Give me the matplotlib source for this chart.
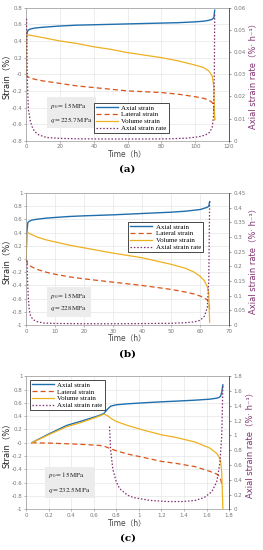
import numpy as np
import matplotlib
matplotlib.use("Agg")
import matplotlib.pyplot as plt

plt.rcParams['font.family'] = ['DejaVu Sans', 'Noto Sans CJK SC']
plt.rcParams['mathtext.fontset'] = 'stix'

# ---- panel (a) ----
t_a = [0, 0.3, 0.6, 1, 2, 5, 10, 20, 30, 40, 50, 60, 70, 80, 90, 100, 105, 108, 110, 111, 111.5]
axial_a = [0, 0.47, 0.50, 0.52, 0.54, 0.555, 0.565, 0.58, 0.59, 0.595, 0.60, 0.605, 0.61, 0.615, 0.62, 0.63, 0.638, 0.648, 0.66, 0.68, 0.77]
lat_a = [0, -0.01, -0.02, -0.03, -0.04, -0.06, -0.08, -0.11, -0.14, -0.16, -0.18, -0.20, -0.21, -0.22, -0.24, -0.27, -0.29, -0.31, -0.34, -0.38, -0.55]
vol_a = [0, 0.47, 0.48, 0.475, 0.47, 0.46, 0.44, 0.40, 0.37, 0.33, 0.30, 0.26, 0.23, 0.20, 0.16, 0.11, 0.08, 0.04, -0.02, -0.15, -0.55]
tr_a = [0.3, 0.5, 0.8, 1.4, 2.5, 3.5, 5, 7.5, 12, 20, 30, 50, 70, 85, 95, 102, 106, 108.5, 110, 110.8, 111.3, 111.5]
rate_a = [0.055, 0.044, 0.026, 0.014, 0.009, 0.0065, 0.0042, 0.0027, 0.0015, 0.0011, 0.0009, 0.0008, 0.0008, 0.0009, 0.0012, 0.0018, 0.0026, 0.0038, 0.0060, 0.011, 0.03, 0.057]

# ---- panel (b) ----
t_b = [0, 0.3, 0.6, 1, 2, 4, 7, 10, 15, 20, 30, 40, 50, 55, 58, 60, 61.5, 62.5, 63, 63.3]
axial_b = [0, 0.42, 0.55, 0.57, 0.59, 0.605, 0.62, 0.63, 0.645, 0.655, 0.67, 0.69, 0.71, 0.725, 0.74, 0.75, 0.77, 0.785, 0.80, 0.87]
lat_b = [0, -0.05, -0.07, -0.09, -0.12, -0.16, -0.20, -0.23, -0.27, -0.30, -0.35, -0.40, -0.46, -0.50, -0.53, -0.56, -0.59, -0.62, -0.66, -0.76]
vol_b = [0, 0.38, 0.40, 0.39, 0.37, 0.33, 0.29, 0.26, 0.21, 0.17, 0.09, 0.02, -0.08, -0.14, -0.20, -0.26, -0.33, -0.42, -0.52, -0.96]
tr_b = [0.35, 0.5, 0.8, 1.1, 1.6, 2.5, 4, 6, 10, 20, 30, 40, 50, 55, 58, 60, 61.5, 62.5, 63, 63.3]
rate_b = [0.22, 0.155, 0.09, 0.052, 0.03, 0.018, 0.011, 0.007, 0.0055, 0.0045, 0.0045, 0.005, 0.006, 0.008, 0.011, 0.016, 0.03, 0.06, 0.15, 0.42]

# ---- panel (c) ----
t_c = [0.05, 0.2, 0.36, 0.5, 0.65, 0.69, 0.72, 0.75, 0.80, 0.9, 1.04, 1.2, 1.33, 1.5, 1.63, 1.69, 1.71, 1.725, 1.735, 1.745]
axial_c = [0, 0.13, 0.26, 0.33, 0.41, 0.44, 0.50, 0.55, 0.57, 0.585, 0.60, 0.615, 0.625, 0.64, 0.655, 0.67, 0.68, 0.70, 0.76, 0.87]
lat_c = [0, -0.005, -0.015, -0.025, -0.04, -0.05, -0.07, -0.09, -0.12, -0.17, -0.22, -0.28, -0.31, -0.36, -0.43, -0.47, -0.50, -0.55, -0.62, -0.66]
vol_c = [0, 0.12, 0.24, 0.31, 0.40, 0.43, 0.41, 0.37, 0.32, 0.26, 0.19, 0.12, 0.08, 0.01, -0.08, -0.16, -0.21, -0.28, -0.45, -1.0]
tr_c = [0.74, 0.75, 0.77, 0.80, 0.83, 0.90, 0.95, 1.1, 1.25, 1.39, 1.5, 1.58, 1.646, 1.69, 1.705, 1.72, 1.735, 1.745]
rate_c = [1.12, 0.80, 0.54, 0.37, 0.28, 0.19, 0.16, 0.12, 0.105, 0.105, 0.12, 0.16, 0.236, 0.37, 0.50, 0.65, 1.0, 1.68]

panels = [
    dict(t=t_a, ax_s=axial_a, lat=lat_a, vol=vol_a, tr=tr_a, rate=rate_a,
         xlim=(0, 120), xt=np.arange(0, 121, 20), ylim=(-0.8, 0.8), yt=np.arange(-0.8, 0.81, 0.2),
         rlim=(0, 0.06), rt=np.arange(0, 0.061, 0.01), q='225.7', lab='(a)',
         legloc=dict(loc='lower right', bbox_to_anchor=(0.72, 0.03)), box=(0.12, 0.12),
         pos=[0.099, 0.744, 0.772, 0.242]),
    dict(t=t_b, ax_s=axial_b, lat=lat_b, vol=vol_b, tr=tr_b, rate=rate_b,
         xlim=(0, 70), xt=np.arange(0, 71, 10), ylim=(-1, 1), yt=np.arange(-1, 1.01, 0.2),
         rlim=(0, 0.45), rt=np.arange(0, 0.451, 0.05), q='228', lab='(b)',
         legloc=dict(loc='upper right', bbox_to_anchor=(0.89, 0.81)), box=(0.12, 0.09),
         pos=[0.099, 0.409, 0.772, 0.240]),
    dict(t=t_c, ax_s=axial_c, lat=lat_c, vol=vol_c, tr=tr_c, rate=rate_c,
         xlim=(0, 1.8), xt=np.arange(0, 1.81, 0.2), ylim=(-1, 1), yt=np.arange(-1, 1.01, 0.2),
         rlim=(0, 1.8), rt=np.arange(0, 1.81, 0.2), q='232.5', lab='(c)',
         legloc=dict(loc='upper left', bbox_to_anchor=(0.0, 1.0)), box=(0.11, 0.11),
         pos=[0.099, 0.074, 0.772, 0.242]),
]

blue = '#1f6fae'
orange = '#d95319'
yellow = '#edb120'
purple = '#7e2f6e'

fig = plt.figure(figsize=(2.63, 5.5), dpi=100)

for p in panels:
    ax = fig.add_axes(p['pos'])
    ax.plot(p['t'], p['ax_s'], color=blue, lw=1.0, label='Axial strain')
    ax.plot(p['t'], p['lat'], color=orange, lw=0.9, ls=(0, (4, 2.5)), label='Lateral strain')
    ax.plot(p['t'], p['vol'], color=yellow, lw=0.9, label='Volume strain')
    ax.set_xlim(p['xlim'])
    ax.set_ylim(p['ylim'])
    ax.set_xticks(p['xt'])
    ax.set_yticks(p['yt'])
    ax.set_xticklabels(['%g' % round(v, 2) for v in p['xt']])
    ax.set_yticklabels(['%g' % round(v, 2) for v in p['yt']])
    ax.grid(True, color='#e6e6e6', lw=0.5)
    ax.tick_params(labelsize=4, colors='#777777', length=1.5, width=0.4, pad=1)
    for s in ax.spines.values():
        s.set_color('#999999')
        s.set_linewidth(0.5)
    ax.set_ylabel('Strain（%）', fontsize=6, color='#222222', labelpad=1)
    ax.set_xlabel('Time（h）', fontsize=5.5, color='#444444', labelpad=0)

    ax2 = ax.twinx()
    ax2.plot(p['tr'], p['rate'], color=purple, lw=0.9, ls=(0, (1.2, 1.5)), label='Axial strain rate')
    ax2.set_ylim(p['rlim'])
    ax2.set_yticks(p['rt'])
    ax2.set_yticklabels(['%g' % round(v, 3) for v in p['rt']])
    ax2.tick_params(labelsize=4, colors='#777777', length=1.5, width=0.4, pad=1.5)
    ax2.tick_params(axis='y', color=purple)
    for s in ax2.spines.values():
        s.set_visible(False)
    ax2.spines['right'].set_visible(True)
    ax2.spines['right'].set_color(purple)
    ax2.spines['right'].set_linewidth(0.6)
    ax2.spines['right'].set_linestyle((0, (2, 1)))
    ax2.set_ylabel('Axial strain rate（%· h⁻¹）', fontsize=6, color=purple, labelpad=2)

    h1, l1 = ax.get_legend_handles_labels()
    h2, l2 = ax2.get_legend_handles_labels()
    leg = ax2.legend(h1 + h2, l1 + l2, prop=dict(family='Liberation Serif', size=5),
                     frameon=True, fancybox=False, edgecolor='black', framealpha=1,
                     handlelength=3.2, handletextpad=0.5, borderpad=0.3, labelspacing=0.15,
                     **p['legloc'])
    leg.get_frame().set_linewidth(0.5)

    bx, by = p['box']
    ax.text(bx, by, '$p_0 = 15\\,\\mathrm{MPa}$\n$q = %s\\,\\mathrm{MPa}$' % p['q'],
            transform=ax.transAxes, fontsize=5, color='#222222', linespacing=1.6,
            va='bottom', ha='left',
            bbox=dict(boxstyle='square,pad=0.5', fc='#ececec', ec='none'))

    x0, y0, w, h = p['pos']
    fig.text(x0 + w / 2, y0 - 0.052, p['lab'], ha='center', va='center',
             fontsize=7.5, fontweight='bold', family='DejaVu Serif')

fig.savefig('out.png', dpi=100)
